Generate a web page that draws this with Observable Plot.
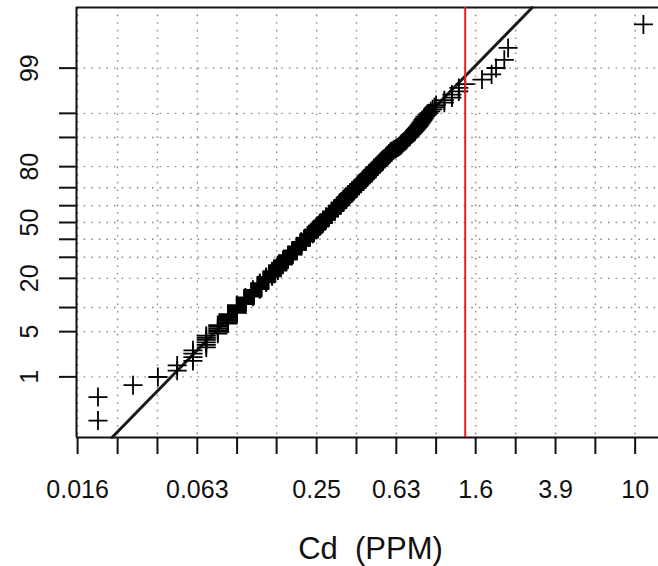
<!DOCTYPE html>
<html>
<head>
<meta charset="utf-8">
<script src="https://cdn.jsdelivr.net/npm/d3@7"></script>
<script src="https://cdn.jsdelivr.net/npm/@observablehq/plot@0.6"></script>
<style>
  html, body { margin: 0; padding: 0; background: #fff; }
  #chart { width: 658px; height: 566px; overflow: hidden; }
</style>
</head>
<body>
<div id="chart"></div>
<script>
// Cd concentrations (ppm) and how many samples share each reported value
const cdValues = [0.02,0.03,0.04,0.05,0.06,
  0.07,0.08,0.09,0.10,0.11,0.12,0.13,0.14,0.15,0.16,
  0.17,0.18,0.19,0.20,0.21,0.22,0.23,0.24,0.25,0.26,
  0.27,0.28,0.29,0.30,0.31,0.32,0.33,0.34,0.35,0.36,
  0.37,0.38,0.39,0.40,0.41,0.42,0.43,0.44,0.45,0.46,
  0.47,0.48,0.49,0.50,0.51,0.52,0.53,0.54,0.55,0.56,
  0.57,0.58,0.59,0.60,0.61,0.62,0.63,0.64,0.65,0.66,
  0.67,0.68,0.69,0.70,0.71,0.72,0.73,0.74,0.75,0.76,
  0.77,0.78,0.79,0.80,0.81,0.82,0.83,0.84,0.85,0.86,
  0.87,0.88,0.90,0.92,0.94,0.96,0.98,
  1.0,1.1,1.2,1.3,1.4,1.7,1.9,2.0,2.2,2.3,11];
const cdCounts = [2,1,1,2,4,
  6,6,8,8,8,9,9,9,9,10,
  9,9,9,8,9,8,8,8,7,7,
  7,7,6,6,6,6,6,5,5,5,
  4,5,4,4,4,3,4,3,4,3,
  3,3,3,2,3,2,2,3,2,2,
  2,2,2,1,1,1,1,1,1,1,
  2,1,1,1,2,1,1,1,1,1,
  1,1,1,1,1,1,1,1,1,1,
  1,1,1,1,1,1,1,
  1,2,2,2,1,1,1,1,1,1,1];

// fitted lognormal reference line (log10 mean and sd)
const fitMeanLog10 = -0.5727;
const fitSdLog10 = 0.3259;
// red threshold line
const thresholdPpm = [1.4];

// axis ticks
const xTickValues = [0.0158,0.0251,0.0398,0.0631,0.1,0.158,0.251,0.398,0.631,1,1.58,2.51,3.98,6.31,10];
const xLabelValues = [0.0158,0.0631,0.251,0.631,1.58,3.98,10];
const xLabelTexts = ["0.016","0.063","0.25","0.63","1.6","3.9","10"];
const yTickPercents = [1,5,10,20,30,40,50,60,70,80,90,95,99];
const yLabelPercents = [1,5,20,50,80,99];
const xDomain = [0.0156, 13.1];
const zDomain = [-3.24, 3.24];
const xTitle = "Cd  (PPM)";

// inverse standard normal CDF (Acklam)
function qnorm(p) {
  const a=[-3.969683028665376e+01,2.209460984245205e+02,-2.759285104469687e+02,1.383577518672690e+02,-3.066479806614716e+01,2.506628277459239e+00];
  const b=[-5.447609879822406e+01,1.615858368580409e+02,-1.556989798598866e+02,6.680131188771972e+01,-1.328068155288572e+01];
  const c=[-7.784894002430293e-03,-3.223964580411365e-01,-2.400758277161838e+00,-2.549732539343734e+00,4.374664141464968e+00,2.938163982698783e+00];
  const d=[7.784695709041462e-03,3.224671290700398e-01,2.445134137142996e+00,3.754408661907416e+00];
  const pl = 0.02425, ph = 1 - pl;
  let q, r;
  if (p < pl) { q = Math.sqrt(-2*Math.log(p)); return (((((c[0]*q+c[1])*q+c[2])*q+c[3])*q+c[4])*q+c[5])/((((d[0]*q+d[1])*q+d[2])*q+d[3])*q+1); }
  if (p <= ph) { q = p - 0.5; r = q*q; return (((((a[0]*r+a[1])*r+a[2])*r+a[3])*r+a[4])*r+a[5])*q/(((((b[0]*r+b[1])*r+b[2])*r+b[3])*r+b[4])*r+1); }
  q = Math.sqrt(-2*Math.log(1-p));
  return -(((((c[0]*q+c[1])*q+c[2])*q+c[3])*q+c[4])*q+c[5])/((((d[0]*q+d[1])*q+d[2])*q+d[3])*q+1);
}

// expand to sorted samples with normal plotting positions
const samples = [];
cdValues.forEach((v, i) => { for (let k = 0; k < cdCounts[i]; k++) samples.push(v); });
const n = samples.length;
const points = samples.map((v, i) => ({cd: v, z: qnorm((i + 1 - 0.5) / n)}));
const fitLine = zDomain.map(z => ({cd: Math.pow(10, fitMeanLog10 + fitSdLog10 * z), z}));
const xLabels = xLabelValues.map((v, i) => ({v, t: xLabelTexts[i]}));

const font = "'Liberation Sans', Arial, Helvetica, sans-serif";
const gridStyle = {stroke: "#8a8a8a", strokeOpacity: 1, strokeWidth: 1.4, strokeDasharray: "1.6,6"};

const chart = Plot.plot({
  width: 658,
  height: 566,
  marginLeft: 76,
  marginRight: 0,
  marginTop: 7,
  marginBottom: 129,
  style: {fontFamily: font, background: "#fff", color: "#111"},
  x: {type: "log", domain: xDomain},
  y: {domain: zDomain},
  marks: [
    Plot.gridX(xTickValues, gridStyle),
    Plot.gridY(yTickPercents.map(p => qnorm(p / 100)), gridStyle),
    Plot.axisX(xTickValues, {
      tickSize: 17, strokeWidth: 2, stroke: "#111", tickFormat: () => "", label: null
    }),
    Plot.axisY(yTickPercents.map(p => qnorm(p / 100)), {
      tickSize: 17, strokeWidth: 2, stroke: "#111", tickFormat: () => "", label: null
    }),
    Plot.text(xLabels, {
      x: "v", text: "t", frameAnchor: "bottom", dy: 52, lineAnchor: "middle",
      textAnchor: "middle", fontSize: 25, fill: "#111"
    }),
    Plot.text(yLabelPercents, {
      y: p => qnorm(p / 100), text: p => String(p), frameAnchor: "left",
      dx: -47, rotate: -90, textAnchor: "middle", lineAnchor: "middle", fontSize: 25, fill: "#111"
    }),
    Plot.text([xTitle], {frameAnchor: "bottom", dy: 112, dx: 3, lineAnchor: "middle", fontSize: 31, fill: "#111"}),
    Plot.ruleX([xDomain[0]], {stroke: "#111", strokeWidth: 2}),
    Plot.ruleY(zDomain, {stroke: "#111", strokeWidth: 2}),
    Plot.line(fitLine, {x: "cd", y: "z", stroke: "#1a1a1a", strokeWidth: 3}),
    Plot.dot(points, {x: "cd", y: "z", symbol: "plus", r: 6.2, stroke: "#000", strokeWidth: 1.8}),
    Plot.ruleX(thresholdPpm, {stroke: "#ee1c25", strokeWidth: 2})
  ]
});
document.getElementById("chart").append(chart);
</script>
</body>
</html>
